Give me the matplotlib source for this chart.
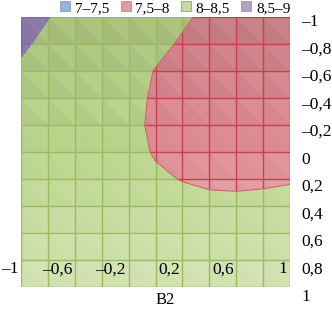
import numpy as np
import matplotlib
matplotlib.use('Agg')
import matplotlib.pyplot as plt
from matplotlib.patches import Patch
from matplotlib.collections import PolyCollection
from matplotlib.transforms import ScaledTranslation


# grid values: columns go along x (-1..1), rows along y (-1 at top .. 1 at bottom)
X_VALUES = [-1, -0.8, -0.6, -0.4, -0.2, 0, 0.2, 0.4, 0.6, 0.8, 1]
Y_VALUES = [-1, -0.8, -0.6, -0.4, -0.2, 0, 0.2, 0.4, 0.6, 0.8, 1]
Z_ROWS = [
	[8.65, 8.51, 8.40, 8.30, 8.20, 8.12, 8.04, 7.94, 7.85, 7.80, 7.78],
	[8.55, 8.42, 8.33, 8.24, 8.14, 8.07, 7.97, 7.86, 7.80, 7.76, 7.74],
	[8.45, 8.36, 8.28, 8.19, 8.10, 7.99, 7.90, 7.82, 7.76, 7.72, 7.70],
	[8.38, 8.30, 8.23, 8.15, 8.07, 7.97, 7.88, 7.80, 7.74, 7.70, 7.68],
	[8.33, 8.26, 8.19, 8.12, 8.06, 7.96, 7.87, 7.79, 7.74, 7.70, 7.68],
	[8.30, 8.25, 8.19, 8.13, 8.08, 7.98, 7.90, 7.83, 7.78, 7.75, 7.74],
	[8.30, 8.26, 8.21, 8.16, 8.10, 8.04, 7.99, 7.96, 7.95, 7.96, 7.97],
	[8.32, 8.28, 8.24, 8.20, 8.16, 8.12, 8.09, 8.06, 8.06, 8.07, 8.12],
	[8.34, 8.31, 8.27, 8.24, 8.21, 8.18, 8.15, 8.13, 8.12, 8.13, 8.16],
	[8.36, 8.33, 8.30, 8.27, 8.25, 8.22, 8.20, 8.18, 8.17, 8.18, 8.20],
	[8.38, 8.35, 8.33, 8.30, 8.28, 8.26, 8.24, 8.22, 8.21, 8.22, 8.24],
]
LEVELS = [7, 7.5, 8, 8.5, 9]
BAND_LABELS = ['7–7,5', '7,5–8', '8–8,5', '8,5–9']
X_LABELS = ['–1', '–0,6', '–0,2', '0,2', '0,6', '1']
X_LABEL_POS = [-1, -0.6, -0.2, 0.2, 0.6, 1]
Y_LABELS = ['–1', '–0,8', '–0,6', '–0,4', '–0,2', '0', '0,2', '0,4', '0,6', '0,8', '1']
TITLE = 'B2'

BAND_COLORS = ['#8fb3e0', '#de8c94', '#bad58b', '#9886ba']
GRID_COLORS = ['#6f93c4', '#c8404e', '#9cba62', '#7e6aa4']
LEGEND_COLORS = ['#93b6e4', '#e49ca0', '#c6da9c', '#b0a2c8']


def facet_overlay(xs, ys):
	'Half-cell triangles with a light/dark tint: darker at the top, lighter at the bottom.'
	verts = []
	colors = []
	for r in range(len(ys) - 1):
		y0, y1 = ys[r], ys[r + 1]
		t = (0.5 * (y0 + y1) + 1) / 2
		for c in range(len(xs) - 1):
			x0, x1 = xs[c], xs[c + 1]
			for upper in (True, False):
				if upper:
					verts.append([(x0, y0), (x1, y0), (x1, y1)])
				else:
					verts.append([(x0, y0), (x0, y1), (x1, y1)])
				if t < 0.5:
					rgba = (0, 0, 0, 0.13 * (1 - t / 0.5))
				else:
					rgba = (1, 1, 1, 0.34 * (t - 0.5) / 0.5)
				if upper:
					rgba = (1, 1, 1, rgba[3] + 0.05) if rgba[:3] == (1, 1, 1) else (0, 0, 0, max(rgba[3] - 0.04, 0))
				colors.append(rgba)
	return PolyCollection(verts, facecolors=colors, edgecolors='none', zorder=2)


def main():
	plt.rcParams['font.family'] = ['Liberation Serif', 'DejaVu Serif']
	fig = plt.figure(figsize=(3.32, 3.15), dpi=100)
	ax = fig.add_axes([21 / 332, 1 - 287 / 315, 269 / 332, 270 / 315])

	xs = np.array(X_VALUES)
	ys = np.array(Y_VALUES)
	zs = np.array(Z_ROWS)
	gx, gy = np.meshgrid(xs, ys)

	cs = ax.contourf(gx, gy, zs, levels=LEVELS, colors=BAND_COLORS, zorder=1)
	ax.add_collection(facet_overlay(xs, ys))

	# grid lines coloured by the band underneath
	for band_index, path in enumerate(cs.get_paths()):
		if len(path.vertices) == 0:
			continue
		vl = ax.vlines(xs, -1, 1, colors=GRID_COLORS[band_index], linewidth=1.0, zorder=4)
		hl = ax.hlines(ys, -1, 1, colors=GRID_COLORS[band_index], linewidth=1.0, zorder=4)
		vl.set_clip_path(path, transform=ax.transData)
		hl.set_clip_path(path, transform=ax.transData)

	ax.contour(gx, gy, zs, levels=[8], colors=['#d0606a'], linewidths=0.8, zorder=5)

	ax.set_xlim(-1, 1)
	ax.set_ylim(1, -1)
	for side in ax.spines.values():
		side.set_visible(False)
	ax.set_xticks([])
	ax.yaxis.tick_right()
	ax.set_yticks(ys)
	ax.set_yticklabels(Y_LABELS)
	ax.tick_params(axis='y', length=0, pad=8, labelsize=12.5)
	for i, lab in enumerate(ax.get_yticklabels()):
		shift = (3 + 5 * i / 10) / 100
		lab.set_transform(lab.get_transform() + ScaledTranslation(0, -shift, fig.dpi_scale_trans))

	for pos, lab in zip(X_LABEL_POS, X_LABELS):
		ax.text(pos - 0.02, 0.87, lab, ha='right', va='center', fontsize=12.5, zorder=6, clip_on=False)

	fig.text(0.497, 1 - 300 / 315, TITLE, ha='center', va='center', fontsize=12)

	handles = [Patch(facecolor=col, edgecolor='#8a8a8a', linewidth=0.5) for col in LEGEND_COLORS]
	fig.legend(handles, BAND_LABELS, loc='center', bbox_to_anchor=(0.528, 1 - 8 / 315), ncol=4, frameon=False,
		fontsize=11, handlelength=0.65, handleheight=0.65, handletextpad=0.3, columnspacing=0.75, borderpad=0)

	fig.savefig('out.png', dpi=100)


if __name__ == '__main__':
	main()
